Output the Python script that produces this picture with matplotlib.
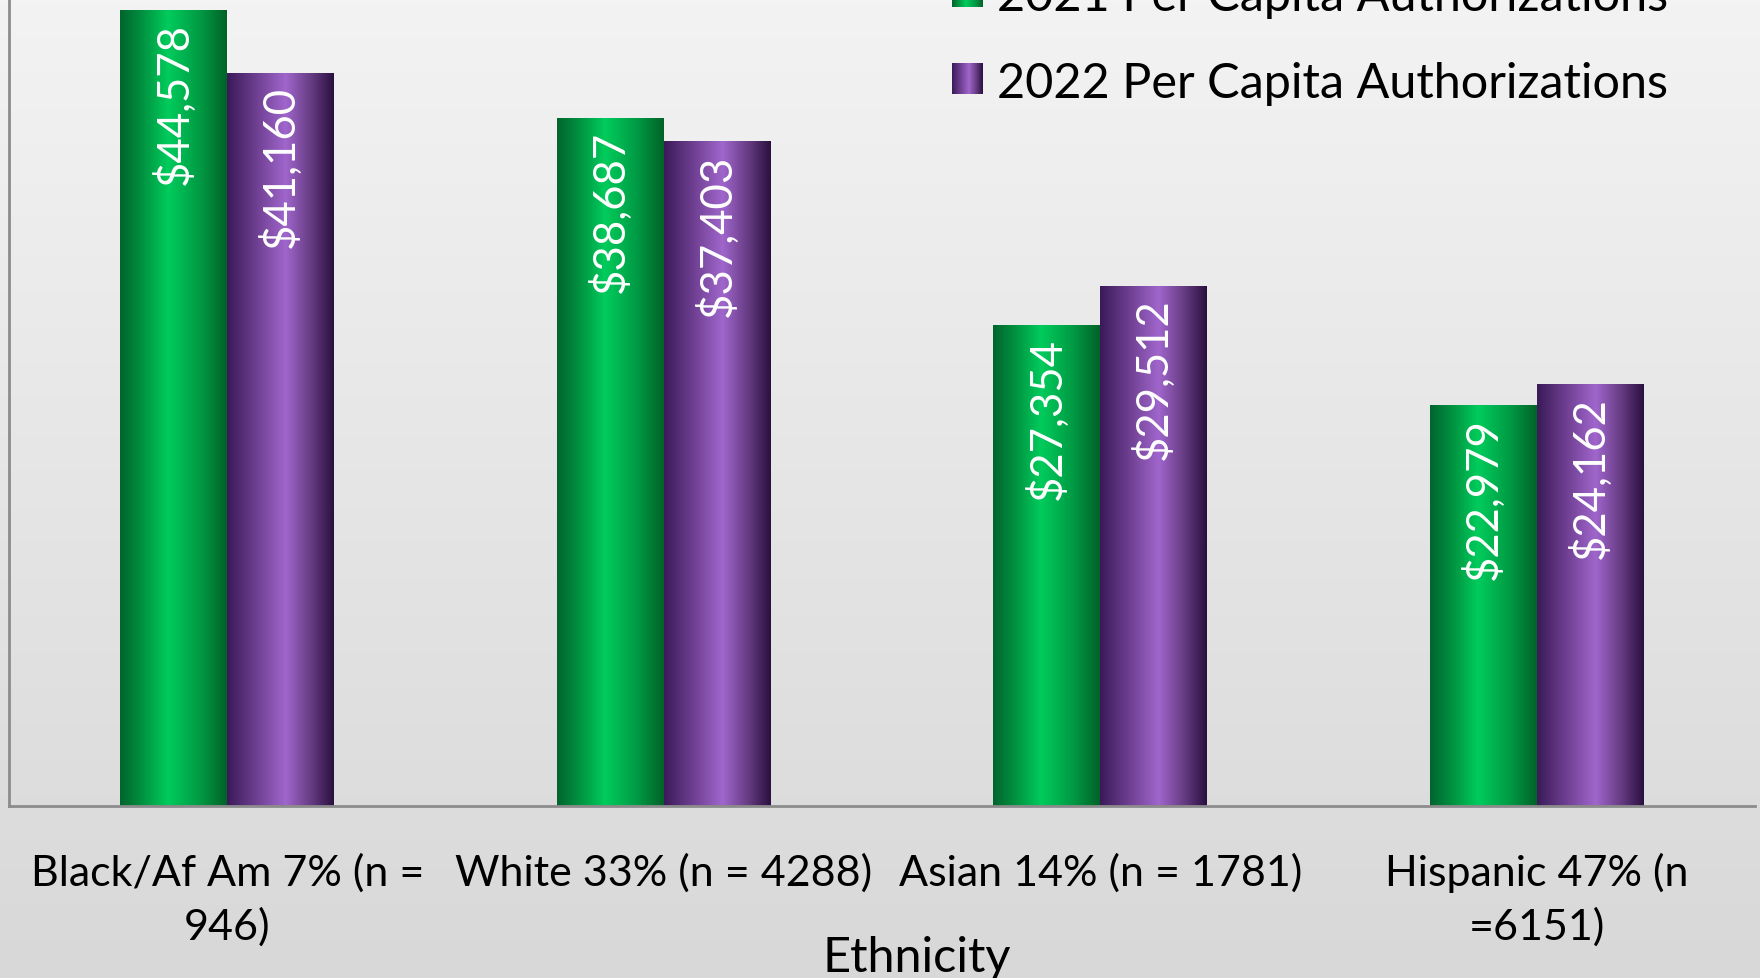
import numpy as np
import matplotlib
matplotlib.use("Agg")
import matplotlib.pyplot as plt
from matplotlib.colors import LinearSegmentedColormap

plt.rcParams['font.family'] = ['Lato', 'DejaVu Sans']

categories = ["Black/Af Am 7% (n =\n946)", "White 33% (n = 4288)",
              "Asian 14% (n = 1781)", "Hispanic 47% (n\n=6151)"]
series_2021 = [44578, 38687, 27354, 22979]
series_2022 = [41160, 37403, 29512, 24162]
series_names = ["2021 Per Capita Authorizations", "2022 Per Capita Authorizations"]
x_title = "Ethnicity"

W, H, DPI = 1760, 979, 100
fig = plt.figure(figsize=(W / DPI, H / DPI), dpi=DPI)

# background: vertical light-gray gradient
bg = fig.add_axes([0, 0, 1, 1], zorder=-10)
bg_cmap = LinearSegmentedColormap.from_list("bg", ["#d8d8d8", "#f3f3f3"])
bg.imshow(np.linspace(0, 1, 256).reshape(-1, 1), cmap=bg_cmap, aspect="auto",
          extent=[0, 1, 0, 1], origin="lower")
bg.set_axis_off()

green_cmap = LinearSegmentedColormap.from_list(
    "g", [(0, "#00652e"), (0.2, "#00903f"), (0.45, "#00cc5c"), (0.75, "#009a44"), (1, "#006328")])
purple_cmap = LinearSegmentedColormap.from_list(
    "p", [(0, "#3a1a58"), (0.25, "#6a3c8c"), (0.55, "#a066cc"), (0.8, "#63397f"), (1, "#2a1040")])

left_px, right_px, base_px = 9, 1755, 807
ax = fig.add_axes([left_px / W, 1 - base_px / H, (right_px - left_px) / W, base_px / H])
ax.patch.set_alpha(0)

x = np.arange(len(categories))
bw = 0.245
ymin, ymax = 1085, 45180
b1 = ax.bar(x - bw / 2, series_2021, bw, color="none")
b2 = ax.bar(x + bw / 2, series_2022, bw, color="none")
ax.set_xlim(-0.5, len(categories) - 0.5)
ax.set_ylim(ymin, ymax)

grad = np.linspace(0, 1, 256).reshape(1, -1)
for bars, cmap in ((b1, green_cmap), (b2, purple_cmap)):
    for rect in bars:
        x0 = rect.get_x()
        h = rect.get_height()
        im = ax.imshow(grad, cmap=cmap, aspect="auto", origin="lower",
                       extent=[x0, x0 + rect.get_width(), max(rect.get_y(), ymin), h],
                       zorder=2)
        im.set_clip_path(rect)
        ax.annotate(f"${h:,.0f}", xy=(x0 + rect.get_width() / 2, h),
                    xytext=(0, -12), textcoords="offset pixels",
                    rotation=90, ha="center", va="top",
                    color="white", fontsize=31.5, zorder=3)
ax.set_xlim(-0.5, len(categories) - 0.5)
ax.set_ylim(ymin, ymax)

for s in ("top", "right"):
    ax.spines[s].set_visible(False)
for s in ("left", "bottom"):
    ax.spines[s].set_color("#8c8c8c")
    ax.spines[s].set_linewidth(2)
ax.set_yticks([])
ax.set_xticks(x)
ax.set_xticklabels(categories, fontsize=31, linespacing=1.45)
ax.tick_params(axis="x", length=0, pad=33)
ax.set_xlabel(x_title, fontsize=35)
ax.xaxis.set_label_coords(0.52, -0.187)
ax.xaxis.label.set_va("center")

# legend swatches and labels
for i, (name, cmap) in enumerate(zip(series_names, (green_cmap, purple_cmap))):
    top = -23 + i * 87
    sw = fig.add_axes([952 / W, 1 - (top + 31) / H, 31 / W, 31 / H])
    sw.imshow(grad, cmap=cmap, aspect="auto")
    sw.set_axis_off()
    fig.text(997 / W, 1 - (top + 34) / H, name, fontsize=35, ha="left",
             va="baseline", color="black")

fig.savefig("out.png", dpi=DPI)
